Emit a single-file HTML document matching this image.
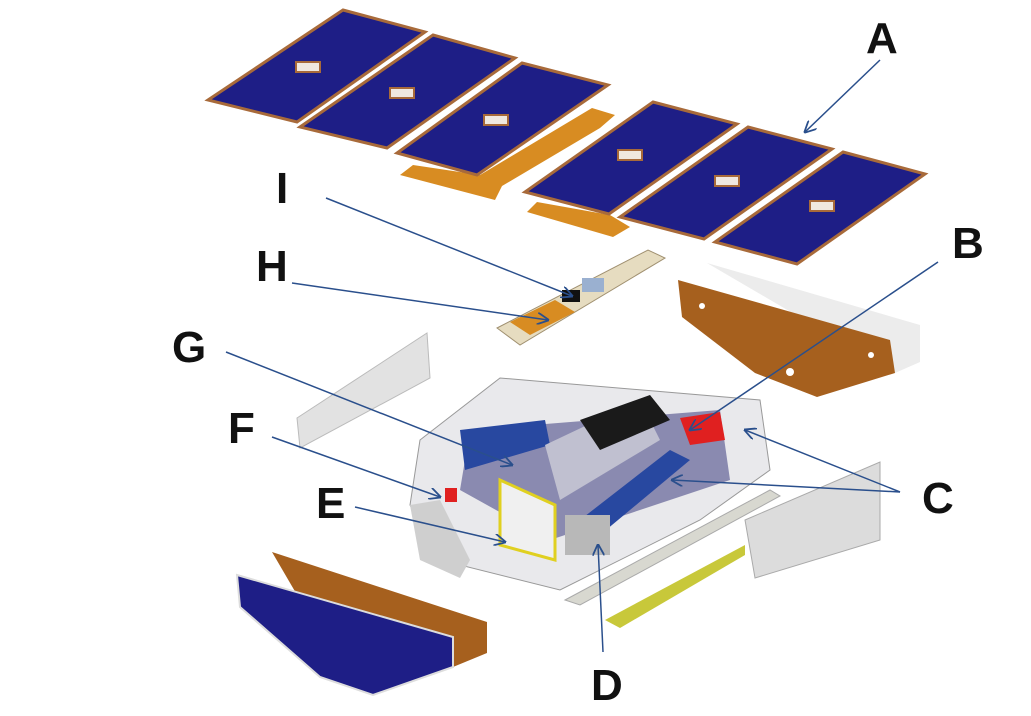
<!DOCTYPE html>
<html><head><meta charset="utf-8"><style>
html,body{margin:0;padding:0;background:#fff;}
svg{display:block}
text{font-family:"Liberation Sans",sans-serif;font-weight:bold;font-size:44px;fill:#111}
</style></head><body>
<svg width="1031" height="716" viewBox="0 0 1031 716" xmlns="http://www.w3.org/2000/svg">
<defs>
<marker id="ar" viewBox="0 0 10 10" refX="9" refY="5" markerWidth="8" markerHeight="8" orient="auto"><path d="M0,0 L10,5 L0,10" fill="none" stroke="#2a4f8c" stroke-width="1.5"/></marker>
</defs>
<!-- orange strips -->
<polygon points="413,165 480,175 592,108 615,115 600,128 502,186 495,200 400,175" fill="#d88c22"/>
<polygon points="537,202 610,215 630,227 613,237 527,212" fill="#d88c22"/>
<!-- solar panels -->
<g stroke="#a86a3a" stroke-width="3" fill="#1e1e86">
<polygon points="343,10 425,32 297,122 208,100"/>
<polygon points="433,35 515,58 387,148 300,127"/>
<polygon points="522,63 608,85 477,175 397,153"/>
<polygon points="653,102 737,124 609,214 525,192"/>
<polygon points="748,127 832,149 704,239 620,217"/>
<polygon points="843,152 925,174 797,264 715,242"/>
</g>
<g fill="#f0e8e0" stroke="#a86a3a" stroke-width="2">
<rect x="296" y="62" width="24" height="10"/><rect x="390" y="88" width="24" height="10"/><rect x="484" y="115" width="24" height="10"/>
<rect x="618" y="150" width="24" height="10"/><rect x="715" y="176" width="24" height="10"/><rect x="810" y="201" width="24" height="10"/>
</g>
<!-- board H/I -->
<polygon points="497,328 648,250 665,258 520,345" fill="#e6dcc0" stroke="#a09070"/>
<polygon points="510,322 555,300 575,312 530,335" fill="#d88c22"/>
<rect x="562" y="290" width="18" height="12" fill="#111"/>
<rect x="582" y="278" width="22" height="14" fill="#9ab0d0"/>
<!-- right brown panel -->
<polygon points="707,263 920,325 920,362 895,373" fill="#ececec"/>
<polygon points="678,280 890,340 895,373 817,397 755,373 682,317" fill="#a6601e"/>
<circle cx="702" cy="306" r="3" fill="#fff"/><circle cx="790" cy="372" r="4" fill="#fff"/><circle cx="871" cy="355" r="3" fill="#fff"/>
<!-- left panel -->
<polygon points="297,418 427,333 430,378 300,448" fill="#e2e2e2" stroke="#bbb"/>
<!-- central body -->
<polygon points="420,440 500,378 760,400 770,470 700,520 560,590 440,560 410,505" fill="#e9e9ec" stroke="#999"/>
<polygon points="470,430 720,410 730,480 550,540 460,490" fill="#8a8ab0"/>
<polygon points="460,430 545,420 550,445 465,470" fill="#2848a0"/>
<polygon points="580,520 670,450 690,460 600,535" fill="#2848a0"/>
<polygon points="545,445 640,400 660,440 560,500" fill="#c0c0d0"/>
<polygon points="580,420 650,395 670,420 600,450" fill="#1a1a1a"/>
<polygon points="680,418 720,412 725,440 690,445" fill="#e02020"/>
<polygon points="500,480 555,505 555,560 500,545" fill="#f0f0f0" stroke="#e0d020" stroke-width="3"/>
<rect x="565" y="515" width="45" height="40" fill="#b8b8b8"/>
<rect x="445" y="488" width="12" height="14" fill="#e02020"/>
<polygon points="410,505 440,500 470,560 460,578 420,560" fill="#cfcfcf"/>
<!-- right plates -->
<polygon points="565,600 770,490 780,496 580,605" fill="#d8d8d0" stroke="#aaa"/>
<polygon points="605,620 745,545 745,555 620,628" fill="#c8c83a"/>
<polygon points="745,520 880,462 880,540 755,578" fill="#dcdcdc" stroke="#aaa"/>
<!-- bottom left panel -->
<polygon points="272,552 487,622 487,653 453,667 300,600" fill="#a6601e"/>
<polygon points="240,607 320,677 373,695 453,667 453,637" fill="#6a4020"/>
<polygon points="237,575 453,637 453,667 373,695 320,677 240,607" fill="#1e1e86" stroke="#ddd" stroke-width="2"/>
<!-- connectors -->
<g stroke="#2a4f8c" stroke-width="1.5" fill="none">
<line x1="880" y1="60" x2="805" y2="132" marker-end="url(#ar)"/>
<line x1="938" y1="262" x2="690" y2="430" marker-end="url(#ar)"/>
<line x1="900" y1="492" x2="745" y2="430" marker-end="url(#ar)"/>
<line x1="900" y1="492" x2="672" y2="480" marker-end="url(#ar)"/>
<line x1="603" y1="652" x2="598" y2="545" marker-end="url(#ar)"/>
<line x1="355" y1="507" x2="505" y2="542" marker-end="url(#ar)"/>
<line x1="272" y1="437" x2="440" y2="497" marker-end="url(#ar)"/>
<line x1="226" y1="352" x2="512" y2="465" marker-end="url(#ar)"/>
<line x1="292" y1="283" x2="548" y2="320" marker-end="url(#ar)"/>
<line x1="326" y1="198" x2="572" y2="296" marker-end="url(#ar)"/>
</g>
<text x="866" y="53">A</text>
<text x="952" y="258">B</text>
<text x="922" y="513">C</text>
<text x="591" y="700">D</text>
<text x="316" y="518">E</text>
<text x="228" y="443">F</text>
<text x="172" y="362">G</text>
<text x="256" y="281">H</text>
<text x="276" y="203">I</text>
</svg>
</body></html>
